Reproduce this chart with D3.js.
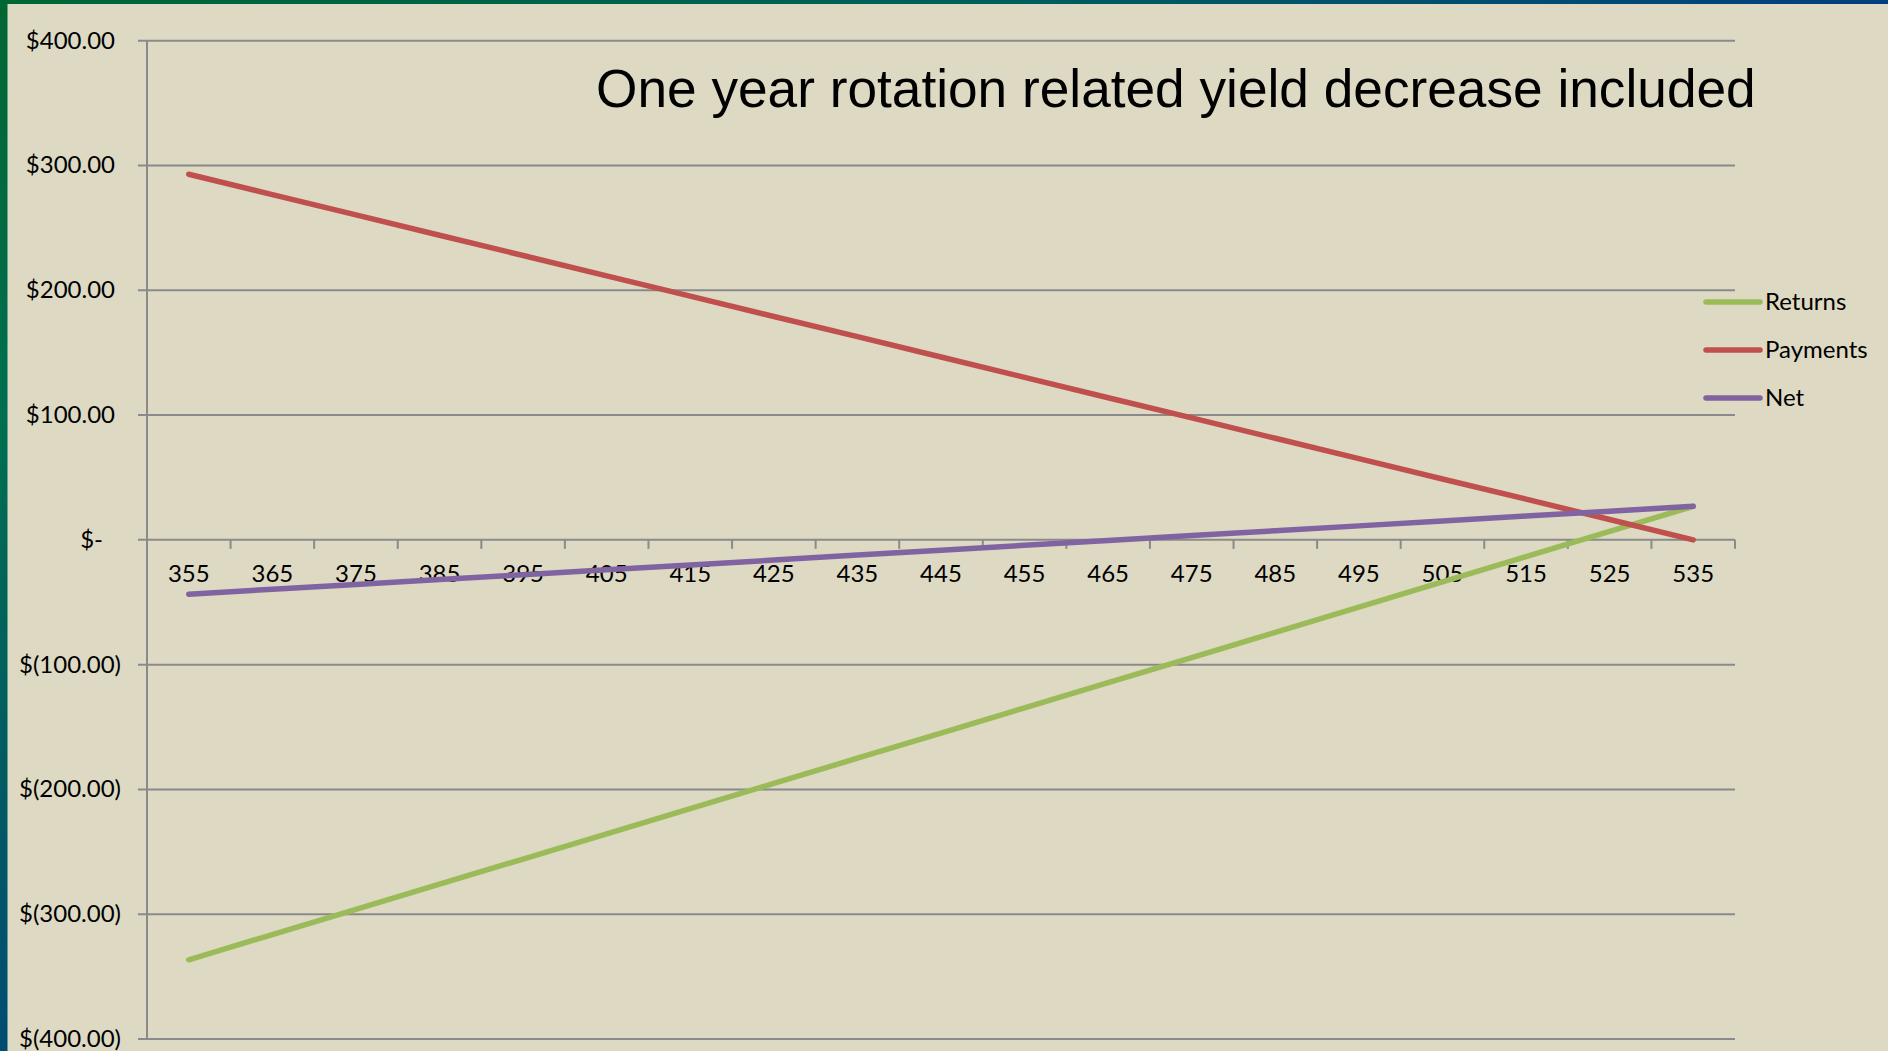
<!DOCTYPE html>
<html>
<head>
<meta charset="utf-8">
<script src="https://cdn.jsdelivr.net/npm/d3@7"></script>
<style>
  html, body { margin: 0; padding: 0; background: #DDD9C3; }
  svg { display: block; }
</style>
</head>
<body>
<svg id="chart" width="1888" height="1051"></svg>
<script>
// Seeding rate categories (x axis)
const categories = ["355","365","375","385","395","405","415","425","435","445",
                    "455","465","475","485","495","505","515","525","535"];

// Dollar values per category
const returns  = [-336.5,-316.3,-296.1,-275.9,-255.8,-235.6,-215.4,-195.2,-175.0,-154.8,
                  -134.6,-114.4,-94.3,-74.1,-53.9,-33.7,-13.5,6.7,26.9];
const payments = [293.0,276.7,260.4,244.1,227.9,211.6,195.3,179.0,162.8,146.5,
                  130.2,113.9,97.7,81.4,65.1,48.8,32.6,16.3,0.0];
const net      = [-43.5,-39.6,-35.7,-31.8,-27.9,-24.0,-20.1,-16.2,-12.2,-8.3,
                  -4.4,-0.5,3.4,7.3,11.2,15.1,19.1,23.0,26.9];

const seriesNames  = ["Returns", "Payments", "Net"];
const seriesColors = ["#9BBB59", "#C0504D", "#8064A2"];
const yTicks = [400, 300, 200, 100, 0, -100, -200, -300, -400];
const title = "One year rotation related yield decrease included";

(function draw() {
  const svg = d3.select("#chart");
  const W = 1888, H = 1051;

  // Frame gradients
  const defs = svg.append("defs");
  const gTop = defs.append("linearGradient").attr("id", "gTop")
    .attr("x1", "0").attr("y1", "0").attr("x2", "1").attr("y2", "0");
  gTop.append("stop").attr("offset", "0").attr("stop-color", "#006633");
  gTop.append("stop").attr("offset", "0.5").attr("stop-color", "#00605A");
  gTop.append("stop").attr("offset", "1").attr("stop-color", "#003F80");
  const gLeft = defs.append("linearGradient").attr("id", "gLeft")
    .attr("x1", "0").attr("y1", "0").attr("x2", "0").attr("y2", "1");
  gLeft.append("stop").attr("offset", "0").attr("stop-color", "#006633");
  gLeft.append("stop").attr("offset", "0.4").attr("stop-color", "#006E50");
  gLeft.append("stop").attr("offset", "1").attr("stop-color", "#004C72");

  svg.append("rect").attr("width", W).attr("height", H).attr("fill", "#DDD9C3");
  svg.append("rect").attr("x", 0).attr("y", 0).attr("width", W).attr("height", 4).attr("fill", "url(#gTop)");
  svg.append("rect").attr("x", 0).attr("y", 0).attr("width", 7.5).attr("height", H).attr("fill", "url(#gLeft)");

  // Plot area
  const plotLeft = 147, plotRight = 1735, plotTop = 40.7, plotBottom = 1039;
  const x = d3.scaleBand().domain(categories).range([plotLeft, plotRight]).padding(0);
  const y = d3.scaleLinear().domain([-400, 400]).range([plotBottom, plotTop]);
  const cx = c => x(c) + x.bandwidth() / 2;

  const gridColor = "#8A8A8A";
  const labelFont = "Lato, 'Open Sans', sans-serif";
  const labelSize = 24;

  // Horizontal gridlines (extend past the axis as tick marks)
  svg.append("g").selectAll("line").data(yTicks).join("line")
    .attr("x1", plotLeft - 9).attr("x2", plotRight)
    .attr("y1", d => y(d)).attr("y2", d => y(d))
    .attr("stroke", gridColor).attr("stroke-width", 2);

  // Vertical axis line
  svg.append("line").attr("x1", plotLeft).attr("x2", plotLeft)
    .attr("y1", y(400)).attr("y2", y(-400))
    .attr("stroke", gridColor).attr("stroke-width", 2);

  // Y tick labels in accounting format
  const fmt = d => {
    if (d === 0) return "$-";
    const s = d3.format(",.2f")(Math.abs(d));
    return d < 0 ? "$(" + s + ")" : "$" + s;
  };
  svg.append("g").selectAll("text").data(yTicks).join("text")
    .attr("x", d => d === 0 ? 103 : (d > 0 ? 115 : 121))
    .attr("y", d => y(d) + 8)
    .attr("text-anchor", "end")
    .attr("font-family", labelFont).attr("font-size", labelSize).attr("fill", "#000")
    .text(fmt);

  // Category axis at zero with tick marks between categories
  const zeroY = y(0);
  const bounds = categories.map(c => x(c) + x.bandwidth());
  svg.append("g").selectAll("line").data(bounds).join("line")
    .attr("x1", d => d).attr("x2", d => d)
    .attr("y1", zeroY).attr("y2", zeroY + 9)
    .attr("stroke", gridColor).attr("stroke-width", 2);

  svg.append("g").selectAll("text").data(categories).join("text")
    .attr("x", d => cx(d)).attr("y", zeroY + 42)
    .attr("text-anchor", "middle")
    .attr("font-family", labelFont).attr("font-size", labelSize).attr("fill", "#000")
    .text(d => d);

  // Series lines
  const seriesData = [returns, payments, net];
  const line = d3.line().x((d, i) => cx(categories[i])).y(d => y(d));
  svg.append("g").selectAll("path").data(seriesData).join("path")
    .attr("d", d => line(d))
    .attr("fill", "none")
    .attr("stroke", (d, i) => seriesColors[i])
    .attr("stroke-width", 5.5)
    .attr("stroke-linecap", "round")
    .attr("stroke-linejoin", "round");

  // Legend
  const legend = svg.append("g").selectAll("g").data(seriesNames).join("g")
    .attr("transform", (d, i) => `translate(0, ${302 + i * 48})`);
  legend.append("line")
    .attr("x1", 1706).attr("x2", 1760).attr("y1", 0).attr("y2", 0)
    .attr("stroke", (d, i) => seriesColors[i]).attr("stroke-width", 5.5)
    .attr("stroke-linecap", "round");
  legend.append("text")
    .attr("x", 1765).attr("y", 8)
    .attr("font-family", labelFont).attr("font-size", labelSize).attr("fill", "#000")
    .text(d => d);

  // Title
  const t = svg.append("text")
    .attr("x", 596).attr("y", 107)
    .attr("font-family", "'Liberation Sans', Arial, sans-serif")
    .attr("font-size", 47).attr("fill", "#000")
    .text(title);
  const targetWidth = 1160;
  const len = t.node().getComputedTextLength();
  t.attr("font-size", 47 * targetWidth / len);
})();
</script>
</body>
</html>
